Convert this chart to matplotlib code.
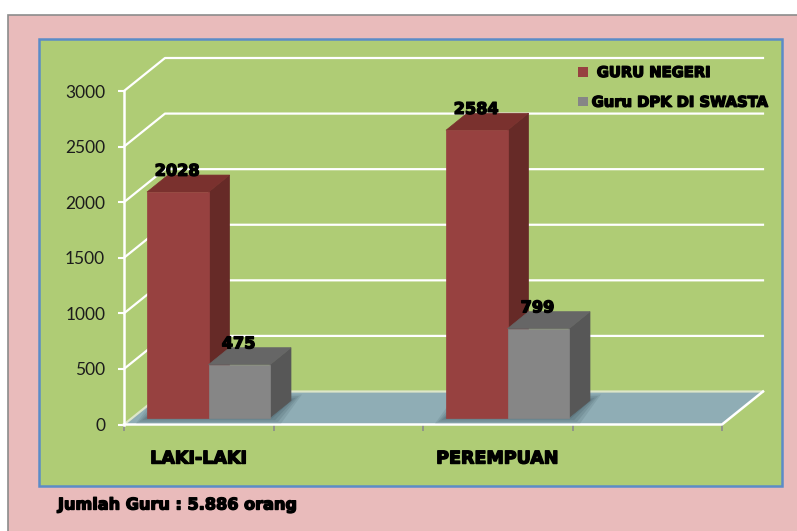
import matplotlib
matplotlib.use("Agg")
import matplotlib.pyplot as plt
import matplotlib.patheffects as pe
from matplotlib.patches import Patch, Polygon, Rectangle
from matplotlib.transforms import Affine2D

# data
categories = ["LAKI-LAKI", "PEREMPUAN"]
guru_negeri = [2028, 2584]
guru_dpk = [475, 799]
series_names = [" GURU NEGERI", "Guru DPK DI SWASTA"]
y_ticks = [0, 500, 1000, 1500, 2000, 2500, 3000]
footer = "Jumlah Guru : 5.886 orang"

W, H = 797, 531
fat = [pe.withStroke(linewidth=1.0, foreground="black")]
font = "DejaVu Sans"

fig = plt.figure(figsize=(W / 100, H / 100), dpi=100, facecolor="white")

# background layer in pixel coords
bg = fig.add_axes([0, 0, 1, 1], zorder=0)
bg.set_xlim(0, W)
bg.set_ylim(H, 0)
bg.axis("off")
bg.add_patch(Rectangle((8.5, 14.5), W, H, fc="#E9BBBB", ec="#8C8C8C", lw=1.2))
bg.add_patch(Rectangle((39.5, 38.5), 743, 447, fc="#AFCC75", ec="#5B8CC8", lw=1.8))
bg.text(58, 505, footer, fontsize=11.6, fontweight="bold", family=font, va="center",
        color="black", path_effects=fat)

# main axes, plot box runs 124..722 px and y 424..91 px
ax = fig.add_axes([124 / W, 1 - 424.5 / H, 598 / W, 333.5 / H], zorder=1)
ax.patch.set_alpha(0)
ax.set_xlim(0, 2)
ax.set_ylim(0, 3000)
for s in ax.spines.values():
    s.set_visible(False)

# depth of the fake 3d box in px
wall_dx, wall_dy = 41, 33
bar_dx, bar_dy = 21, 17
front_shift = 7
px_x = 2 / 598
px_y = 3000 / 333.5

def back(x, v, dx, dy):
    return (x + dx * px_x, v + dy * px_y)

# floor
ax.add_patch(Polygon([(0, 0), back(0, 0, wall_dx, wall_dy), back(2, 0, wall_dx, wall_dy), (2, 0)],
                     closed=True, fc="#8FADB5", ec="none", clip_on=False, zorder=1))

# grid on the wall
for t in y_ticks:
    xs = [0, back(0, t, wall_dx, wall_dy)[0], back(2, t, wall_dx, wall_dy)[0]]
    ys = [t, back(0, t, wall_dx, wall_dy)[1], back(2, t, wall_dx, wall_dy)[1]]
    col = "#DDE6C8" if t == 0 else "white"
    ax.plot(xs, ys, color=col, lw=1.6, clip_on=False, zorder=2)
ax.plot([0, 2, back(2, 0, wall_dx, wall_dy)[0]], [0, 0, back(2, 0, wall_dx, wall_dy)[1]],
        color="white", lw=1.8, clip_on=False, zorder=3)
ax.plot([0, 0], [0, 3000], color="white", lw=1.8, clip_on=False, zorder=3)

ax.set_yticks(y_ticks)
ax.set_xticks([0, 0.5, 1, 1.5, 2])
ax.set_xticklabels([])
ax.tick_params(axis="y", length=4.5, width=1.5, color="white", labelsize=12.5, labelcolor="#1C1C1C", pad=9)
ax.tick_params(axis="x", length=4, width=1.2, color="#8C8C8C")
for lab in ax.get_yticklabels():
    lab.set_family("Lato")

bar_w = 61.5 * px_x
group_off = -65 * px_x
front_tr = ax.transData + Affine2D().translate(0, front_shift)

styles = [("#974140", "#7A312E", "#662A27"), ("#868686", "#666666", "#575757")]

for i, cat in enumerate(categories):
    cx = i + 0.5 + group_off
    # soft shadow on the floor
    x0 = cx - bar_w
    x1 = cx + bar_w
    for grow, a in [(11, 0.16), (8, 0.2), (5, 0.24), (2, 0.3)]:
        g = grow * px_x
        gy = grow * 0.55 * px_y
        pts = [(x0 - g, -gy), back(x0 - g, gy, bar_dx, bar_dy), back(x1 + g, gy, bar_dx, bar_dy), (x1 + g, -gy)]
        ax.add_patch(Polygon(pts, closed=True, fc="#47606A", ec="none", alpha=a, zorder=3,
                             transform=front_tr, clip_on=False))

    for j, vals in enumerate([guru_negeri, guru_dpk]):
        v = vals[i]
        left = cx - bar_w if j == 0 else cx
        right = left + bar_w
        front, top, side = styles[j]
        z = 5 + j
        ax.add_patch(Polygon([(right, 0), back(right, 0, bar_dx, bar_dy), back(right, v, bar_dx, bar_dy), (right, v)],
                             closed=True, fc=side, ec=side, lw=0.5, transform=front_tr, clip_on=False, zorder=z))
        ax.add_patch(Polygon([(left, v), back(left, v, bar_dx, bar_dy), back(right, v, bar_dx, bar_dy), (right, v)],
                             closed=True, fc=top, ec=top, lw=0.5, transform=front_tr, clip_on=False, zorder=z))
        ax.bar(left, v, width=bar_w, align="edge", color=front, edgecolor=front, linewidth=0.5,
               transform=front_tr, clip_on=False, zorder=z + 0.5)

    ax.annotate(cat, (i + 0.5, 0), xytext=(-54, -24.5), textcoords="offset points", ha="center", va="center",
                fontsize=12.6, fontweight="bold", family=font, color="black", path_effects=fat, annotation_clip=False)

# value labels, drawn last so they sit over the bars
for i in range(2):
    cx = i + 0.5 + group_off
    ax.annotate(str(guru_negeri[i]), (cx - bar_w / 2, guru_negeri[i]), xytext=(-0.5, 15), textcoords="offset points",
                ha="center", va="center", fontsize=11.6, fontweight="bold", family=font, path_effects=fat,
                xycoords=front_tr, zorder=10, annotation_clip=False)
    ax.annotate(str(guru_dpk[i]), (cx + bar_w / 2, guru_dpk[i]), xytext=(-0.5, 15), textcoords="offset points",
                ha="center", va="center", fontsize=11.6, fontweight="bold", family=font, path_effects=fat,
                xycoords=front_tr, zorder=10, annotation_clip=False)

handles = [Patch(fc=styles[0][0], ec="none"), Patch(fc=styles[1][0], ec="none")]
leg = ax.legend(handles, series_names, loc="upper left", bbox_to_anchor=(578 / W, 1 - 65 / H),
                bbox_transform=fig.transFigure, frameon=False, borderpad=0, borderaxespad=0, handlelength=0.65,
                handleheight=0.65, handletextpad=0.28, labelspacing=1.0, prop={"family": font, "weight": "bold", "size": 10.6})
for t in leg.get_texts():
    t.set_path_effects(fat)
leg.set_zorder(20)

fig.savefig("out.png", dpi=100)
